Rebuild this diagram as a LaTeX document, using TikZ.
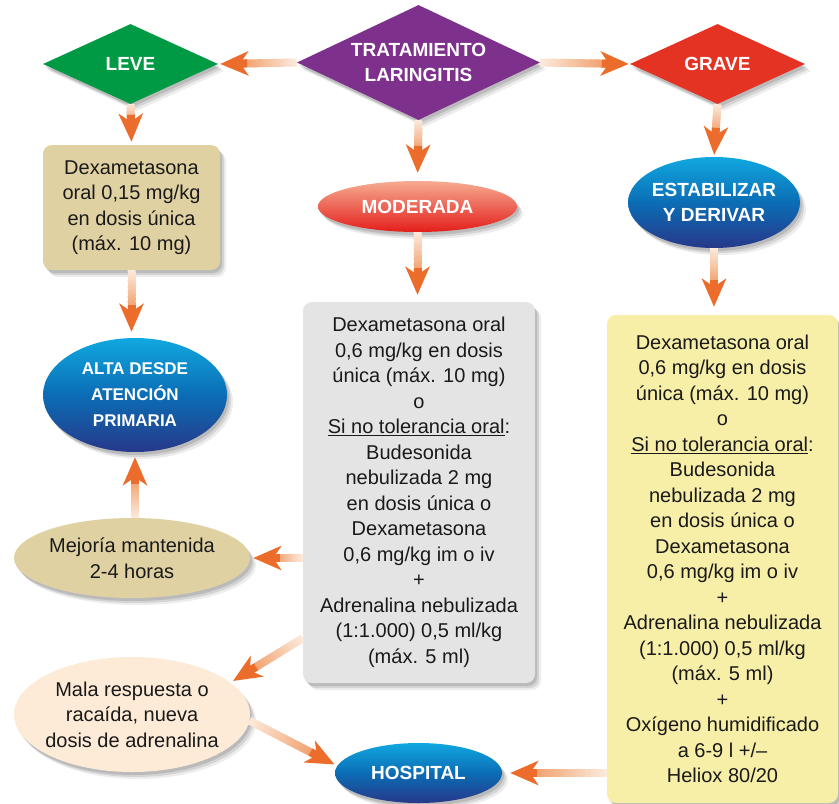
\documentclass[tikz,border=0pt]{standalone}
\usepackage{fontspec}
\setmainfont{Liberation Sans}
\usetikzlibrary{shapes.geometric,shadows,calc,arrows.meta}
\definecolor{cGreen}{HTML}{009A44}
\definecolor{cPurple}{HTML}{7E318C}
\definecolor{cRed}{HTML}{E53323}
\definecolor{bTop}{HTML}{10A8E0}
\definecolor{bMid}{HTML}{0B6DB5}
\definecolor{bBot}{HTML}{273889}
\definecolor{rTop}{HTML}{F6AC92}
\definecolor{rBot}{HTML}{E31E1A}
\definecolor{cBeige}{HTML}{E0D1A3}
\definecolor{cPeach}{HTML}{FDEBD7}
\definecolor{cGrey}{HTML}{E4E4E4}
\definecolor{cYellow}{HTML}{F7EEA8}
\definecolor{arrStart}{HTML}{FCEBDD}
\definecolor{arrEnd}{HTML}{F09C66}
\definecolor{arrHead}{HTML}{EC6D2B}
\definecolor{txt}{HTML}{1A1A1A}
\newcommand\bodyfont{\fontsize{20}{25.5}\selectfont}
\newcommand\hdrfont{\bfseries\fontsize{19}{25.5}\selectfont}
\newcommand\altafont{\bfseries\fontsize{17}{26}\selectfont}
% gradient arrow: from, to, gap before target
\newcommand\garrow[3]{%
  \coordinate (ga) at (#1);
  \coordinate (gb) at ($(#2)!#3!(#1)$);
  \coordinate (gc) at ($(gb)!21pt!(ga)$);
  \foreach \i in {0,...,23}{%
    \pgfmathsetmacro\ta{\i/24}%
    \pgfmathsetmacro\tb{min(1,(\i+1.3)/24)}%
    \pgfmathsetmacro\cc{100*(\i+0.5)/24}%
    \draw[line width=8pt, draw=arrEnd!\cc!arrStart] ($(ga)!\ta!(gc)$) -- ($(ga)!\tb!(gc)$);
  }
  \draw[line width=8pt, draw=arrHead, -{Stealth[length=28pt,width=24pt,inset=8pt]}] ($(gb)!27pt!(ga)$) -- (gb);
}
\begin{document}
\begin{tikzpicture}[x=1pt,y=-1pt,
  shd/.style={drop shadow={shadow xshift=2pt,shadow yshift=-3pt,opacity=.12,fill=black},
              drop shadow={shadow xshift=4pt,shadow yshift=-5pt,opacity=.10,fill=black},
              drop shadow={shadow xshift=6pt,shadow yshift=-7pt,opacity=.07,fill=black}},
  dia/.style={diamond, draw=none, inner sep=0pt, shd},
  ell/.style={ellipse, draw=none, inner sep=0pt, shd},
  blueell/.style={ell, top color=bTop, bottom color=bBot, middle color=bMid},
  box/.style={rectangle, rounded corners=9pt, draw=none, inner sep=0pt, shd, align=center, font=\bodyfont, text=txt},
  hdr/.style={text=white, font=\hdrfont, align=center, inner sep=0pt},
  body/.style={text=txt, font=\bodyfont, align=center, inner sep=0pt}]
\useasboundingbox (0,0) rectangle (839,804);
\fill[white] (0,0) rectangle (839,804);

% diamonds
\node[dia, fill=cGreen, minimum width=175pt, minimum height=80pt] (leve) at (130.5,64) {};
\node[hdr] at (leve) {LEVE};
\node[dia, fill=cPurple, minimum width=243pt, minimum height=115pt] (trat) at (418.5,62.5) {};
\node[hdr] at (trat) {TRATAMIENTO\\LARINGITIS};
\node[dia, fill=cRed, minimum width=175pt, minimum height=80pt] (grave) at (717.5,64) {};
\node[hdr] at (grave) {GRAVE};

% ellipses
\node[ell, top color=rTop, bottom color=rBot, minimum width=199pt, minimum height=51pt] (moder) at (417.5,206.5) {};
\node[hdr] at (moder) {MODERADA};
\node[blueell, minimum width=172pt, minimum height=91pt] (est) at (714,202.5) {};
\node[hdr] at (est) {ESTABILIZAR\\Y DERIVAR};
\node[blueell, minimum width=184pt, minimum height=114pt] (alta) at (135,395) {};
\node[hdr, font=\altafont] at (alta) {ALTA DESDE\\ATENCIÓN\\PRIMARIA};
\node[ell, fill=cBeige, minimum width=236pt, minimum height=80pt] (mejo) at (132,558) {};
\node[body] at (mejo) {Mejoría mantenida\\2-4 horas};
\node[ell, fill=cPeach, minimum width=236pt, minimum height=115pt] (mala) at (132,714.5) {};
\node[body] at (mala) {Mala respuesta o\\racaída, nueva\\dosis de adrenalina};
\node[blueell, minimum width=167pt, minimum height=60pt] (hosp) at (418.5,773) {};
\node[hdr] at (hosp) {HOSPITAL};

% boxes
\node[box, fill=cBeige, minimum width=177pt, minimum height=125pt] (beige) at (131.5,207.5)
  {Dexametasona\\oral 0,15 mg/kg\\en dosis única\\(máx. 10 mg)};
\node[box, fill=cGrey, minimum width=232pt, minimum height=381pt] (grey) at (419,492.5)
  {Dexametasona oral\\0,6 mg/kg en dosis\\única (máx. 10 mg)\\o\\\underline{Si no tolerancia oral}:\\Budesonida\\nebulizada 2 mg\\en dosis única o\\Dexametasona\\0,6 mg/kg im o iv\\+\\Adrenalina nebulizada\\(1:1.000) 0,5 ml/kg\\(máx. 5 ml)};
\node[box, fill=cYellow, minimum width=231pt, minimum height=488pt] (yellow) at (722.5,559)
  {Dexametasona oral\\0,6 mg/kg en dosis\\única (máx. 10 mg)\\o\\\underline{Si no tolerancia oral}:\\Budesonida\\nebulizada 2 mg\\en dosis única o\\Dexametasona\\0,6 mg/kg im o iv\\+\\Adrenalina nebulizada\\(1:1.000) 0,5 ml/kg\\(máx. 5 ml)\\+\\Oxígeno humidificado\\a 6-9 l +/–\\Heliox 80/20};

% helper coordinates
\coordinate (mgn) at (moder.south |- grey.north);
\coordinate (eyn) at (est.south |- yellow.north);
\coordinate (ban) at (beige.south |- alta.north);
\coordinate (amn) at (alta.south |- mejo.north);
\coordinate (gwm) at (grey.west |- mejo.east);
\coordinate (gwl) at ($(grey.south west)+(0,-45)$);
\coordinate (ywh) at (yellow.west |- hosp.east);

% arrows
\garrow{trat.west}{leve.east}{2pt}
\garrow{trat.east}{grave.west}{1pt}
\garrow{leve.south}{beige.north}{3pt}
\garrow{trat.south}{moder.north}{8pt}
\garrow{grave.south}{est.north}{2pt}
\garrow{beige.south}{ban}{6pt}
\garrow{moder.south}{mgn}{7pt}
\garrow{est.south}{eyn}{8pt}
\garrow{amn}{alta.south}{5pt}
\garrow{gwm}{mejo.east}{3pt}
\garrow{gwl}{mala.18}{3pt}
\garrow{mala.-3}{hosp.175}{3pt}
\garrow{ywh}{hosp.east}{8pt}
\end{tikzpicture}
\end{document}
